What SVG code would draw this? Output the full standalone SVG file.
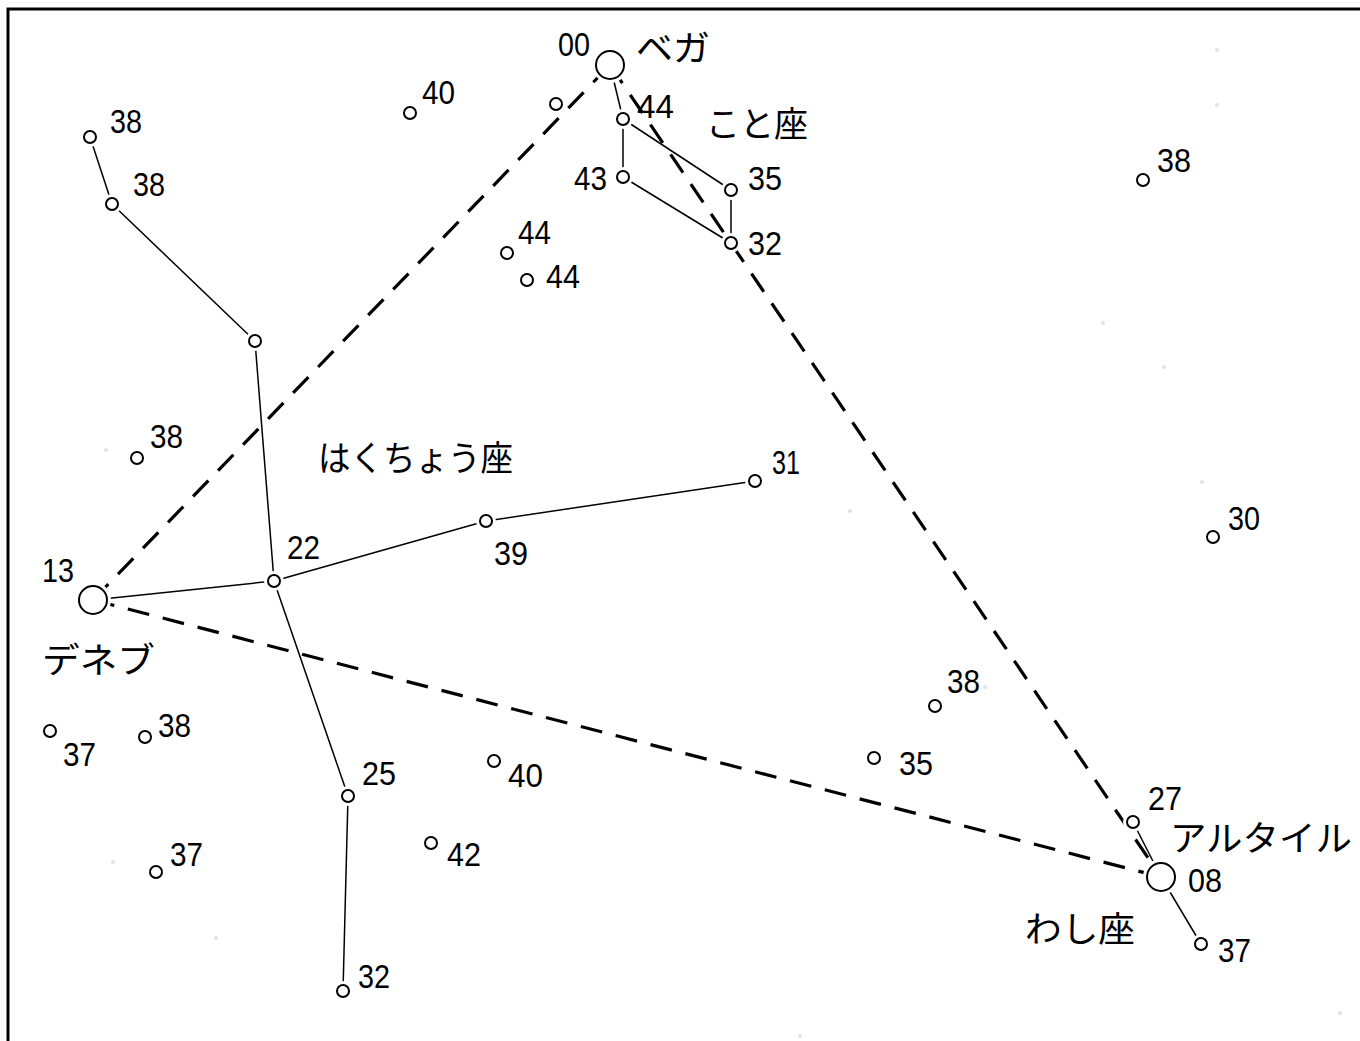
<svg xmlns="http://www.w3.org/2000/svg" width="1360" height="1041" viewBox="0 0 1360 1041">
<defs>
<g id="sm"><circle r="10" fill="#fff"/><circle r="6" fill="#fff" stroke="#000" stroke-width="2"/></g>
<g id="bg-star"><circle r="18" fill="#fff"/><circle r="14" fill="#fff" stroke="#000" stroke-width="2"/></g>
</defs>
<style>
.frame{stroke:#000;stroke-width:3;fill:none}
.thin{stroke:#000;stroke-width:1.5;fill:none}
.dash{stroke:#000;stroke-width:3.2;fill:none;stroke-dasharray:22 14}
.faint{fill:#e2e2e2}
.n{font-family:"Liberation Sans",Arial,sans-serif;font-size:34px;fill:#000}
.j{font-family:"Noto Sans CJK JP","Noto Sans CJK SC",sans-serif;font-size:35px;fill:#000}
</style>
<rect x="0" y="0" width="1360" height="1041" fill="#fff"/>
<path class="frame" d="M8,1041 V9 H1360"/>
<g id="faint-stars">
<circle class="faint" cx="1217" cy="50" r="2"/>
<circle class="faint" cx="1217" cy="105" r="2"/>
<circle class="faint" cx="1103" cy="323" r="2"/>
<circle class="faint" cx="1164" cy="367" r="2"/>
<circle class="faint" cx="1202" cy="482" r="2"/>
<circle class="faint" cx="850" cy="511" r="2"/>
<circle class="faint" cx="106" cy="450" r="2"/>
<circle class="faint" cx="113" cy="862" r="2"/>
<circle class="faint" cx="216" cy="938" r="2"/>
<circle class="faint" cx="800" cy="1036" r="2"/>
<circle class="faint" cx="1340" cy="1013" r="2"/>
<circle class="faint" cx="985" cy="687" r="2"/>
</g>
<g id="connectors">
<line class="dash" x1="93" y1="600" x2="610" y2="65"/>
<line class="dash" x1="610" y1="65" x2="1161" y2="877"/>
<line class="dash" x1="93" y1="600" x2="1161" y2="877"/>
<line class="thin" x1="610" y1="65" x2="623" y2="119"/>
<line class="thin" x1="623" y1="119" x2="623" y2="177"/>
<line class="thin" x1="623" y1="119" x2="731" y2="190"/>
<line class="thin" x1="623" y1="177" x2="731" y2="243"/>
<line class="thin" x1="731" y1="190" x2="731" y2="243"/>
<line class="thin" x1="90" y1="137" x2="112" y2="204"/>
<line class="thin" x1="112" y1="204" x2="255" y2="341"/>
<line class="thin" x1="255" y1="341" x2="274" y2="581"/>
<line class="thin" x1="274" y1="581" x2="93" y2="600"/>
<line class="thin" x1="274" y1="581" x2="486" y2="521"/>
<line class="thin" x1="486" y1="521" x2="755" y2="481"/>
<line class="thin" x1="274" y1="581" x2="348" y2="796"/>
<line class="thin" x1="348" y1="796" x2="343" y2="991"/>
<line class="thin" x1="1133" y1="822" x2="1161" y2="877"/>
<line class="thin" x1="1161" y1="877" x2="1201" y2="944"/>
</g>
<g id="vega"><use href="#bg-star" x="610" y="65"/><text class="n" x="558" y="56" textLength="32" lengthAdjust="spacingAndGlyphs">00</text><text class="j" x="636" y="61" textLength="74" lengthAdjust="spacingAndGlyphs">ベガ</text></g>
<g id="deneb"><use href="#bg-star" x="93" y="600"/><text class="n" x="42" y="582" textLength="32" lengthAdjust="spacingAndGlyphs">13</text><text class="j" x="42" y="673" textLength="113" lengthAdjust="spacingAndGlyphs">デネブ</text></g>
<g id="altair"><use href="#bg-star" x="1161" y="877"/><text class="n" x="1188" y="892" textLength="34" lengthAdjust="spacingAndGlyphs">08</text><text class="j" x="1170" y="851" textLength="182" lengthAdjust="spacingAndGlyphs">アルタイル</text></g>
<g id="label-lyra"><text class="j" x="706" y="137" textLength="102" lengthAdjust="spacingAndGlyphs">こと座</text></g>
<g id="label-cygnus"><text class="j" x="318" y="471" textLength="195" lengthAdjust="spacingAndGlyphs">はくちょう座</text></g>
<g id="label-aquila"><text class="j" x="1025" y="942" textLength="110" lengthAdjust="spacingAndGlyphs">わし座</text></g>
<g id="star-l44"><use href="#sm" x="623" y="119"/><text class="n" x="637" y="118" textLength="37" lengthAdjust="spacingAndGlyphs">44</text></g>
<g id="star-l43"><use href="#sm" x="623" y="177"/><text class="n" x="574" y="190" textLength="33" lengthAdjust="spacingAndGlyphs">43</text></g>
<g id="star-l35"><use href="#sm" x="731" y="190"/><text class="n" x="748" y="190" textLength="34" lengthAdjust="spacingAndGlyphs">35</text></g>
<g id="star-l32"><use href="#sm" x="731" y="243"/><text class="n" x="748" y="255" textLength="34" lengthAdjust="spacingAndGlyphs">32</text></g>
<g id="star-v"><use href="#sm" x="556" y="104"/></g>
<g id="star-40a"><use href="#sm" x="410" y="113"/><text class="n" x="422" y="104" textLength="33" lengthAdjust="spacingAndGlyphs">40</text></g>
<g id="star-44a"><use href="#sm" x="507" y="253"/><text class="n" x="518" y="244" textLength="33" lengthAdjust="spacingAndGlyphs">44</text></g>
<g id="star-44b"><use href="#sm" x="527" y="280"/><text class="n" x="546" y="288" textLength="34" lengthAdjust="spacingAndGlyphs">44</text></g>
<g id="star-38a"><use href="#sm" x="90" y="137"/><text class="n" x="110" y="133" textLength="32" lengthAdjust="spacingAndGlyphs">38</text></g>
<g id="star-38b"><use href="#sm" x="112" y="204"/><text class="n" x="133" y="196" textLength="32" lengthAdjust="spacingAndGlyphs">38</text></g>
<g id="star-c1"><use href="#sm" x="255" y="341"/></g>
<g id="star-38c"><use href="#sm" x="137" y="458"/><text class="n" x="150" y="448" textLength="33" lengthAdjust="spacingAndGlyphs">38</text></g>
<g id="star-22"><use href="#sm" x="274" y="581"/><text class="n" x="287" y="559" textLength="33" lengthAdjust="spacingAndGlyphs">22</text></g>
<g id="star-39"><use href="#sm" x="486" y="521"/><text class="n" x="494" y="565" textLength="34" lengthAdjust="spacingAndGlyphs">39</text></g>
<g id="star-31"><use href="#sm" x="755" y="481"/><text class="n" x="772" y="474" textLength="28" lengthAdjust="spacingAndGlyphs">31</text></g>
<g id="star-25"><use href="#sm" x="348" y="796"/><text class="n" x="362" y="785" textLength="34" lengthAdjust="spacingAndGlyphs">25</text></g>
<g id="star-32c"><use href="#sm" x="343" y="991"/><text class="n" x="358" y="988" textLength="32" lengthAdjust="spacingAndGlyphs">32</text></g>
<g id="star-38r"><use href="#sm" x="1143" y="180"/><text class="n" x="1157" y="172" textLength="34" lengthAdjust="spacingAndGlyphs">38</text></g>
<g id="star-30"><use href="#sm" x="1213" y="537"/><text class="n" x="1228" y="530" textLength="32" lengthAdjust="spacingAndGlyphs">30</text></g>
<g id="star-38m"><use href="#sm" x="935" y="706"/><text class="n" x="947" y="693" textLength="33" lengthAdjust="spacingAndGlyphs">38</text></g>
<g id="star-35m"><use href="#sm" x="874" y="758"/><text class="n" x="899" y="775" textLength="34" lengthAdjust="spacingAndGlyphs">35</text></g>
<g id="star-37a"><use href="#sm" x="50" y="731"/><text class="n" x="63" y="766" textLength="33" lengthAdjust="spacingAndGlyphs">37</text></g>
<g id="star-38d"><use href="#sm" x="145" y="737"/><text class="n" x="158" y="737" textLength="33" lengthAdjust="spacingAndGlyphs">38</text></g>
<g id="star-40b"><use href="#sm" x="494" y="761"/><text class="n" x="508" y="787" textLength="35" lengthAdjust="spacingAndGlyphs">40</text></g>
<g id="star-42"><use href="#sm" x="431" y="843"/><text class="n" x="447" y="866" textLength="34" lengthAdjust="spacingAndGlyphs">42</text></g>
<g id="star-37b"><use href="#sm" x="156" y="872"/><text class="n" x="170" y="866" textLength="33" lengthAdjust="spacingAndGlyphs">37</text></g>
<g id="star-27"><use href="#sm" x="1133" y="822"/><text class="n" x="1148" y="810" textLength="34" lengthAdjust="spacingAndGlyphs">27</text></g>
<g id="star-37c"><use href="#sm" x="1201" y="944"/><text class="n" x="1218" y="962" textLength="33" lengthAdjust="spacingAndGlyphs">37</text></g>
</svg>
